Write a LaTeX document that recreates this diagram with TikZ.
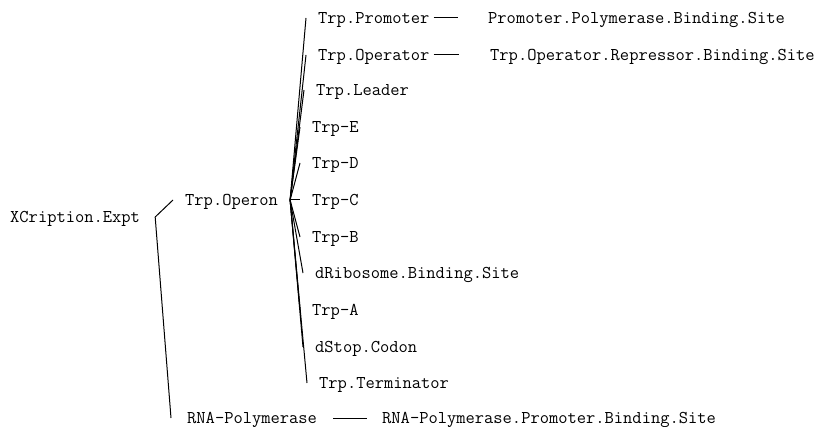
\documentclass[tikz,border=0pt]{standalone}
\usepackage{fontspec}
\setmonofont{Latin Modern Mono}
\tikzset{
  part/.style={inner xsep=15pt, inner ysep=2pt, text height=11pt, text depth=0pt, anchor=west, font=\ttfamily\fontsize{18}{20}\selectfont},
  gene/.style={part, inner xsep=12pt},
  site/.style={part, inner xsep=15pt},
  link/.style={line width=1pt}
}
\begin{document}
\begin{tikzpicture}[x=1pt, y=-1pt]
  \useasboundingbox (0,0) rectangle (829,427);
  \node[part] (expt) at (-5,217) {XCription.Expt};
  \node[part, inner xsep=12pt] (operon) at (173,200) {Trp.Operon};
  \node[part, inner xsep=16pt] (rnapol) at (171,418) {RNA-Polymerase};
  \node[gene] (promoter) at (306,18) {Trp.Promoter};
  \node[gene] (operator) at (306,55) {Trp.Operator};
  \node[gene] (leader) at (304,90) {Trp.Leader};
  \node[gene] (trpE) at (300,127) {Trp-E};
  \node[gene] (trpD) at (300,163) {Trp-D};
  \node[gene] (trpC) at (300,200) {Trp-C};
  \node[gene] (trpB) at (300,237) {Trp-B};
  \node[gene] (ribosome) at (303,273) {dRibosome.Binding.Site};
  \node[gene] (trpA) at (300,310) {Trp-A};
  \node[gene] (stopcodon) at (303,347) {dStop.Codon};
  \node[gene] (terminator) at (307,383) {Trp.Terminator};
  \node[site, inner xsep=30pt] (polsite) at (458,18) {Promoter.Polymerase.Binding.Site};
  \node[site, inner xsep=31pt] (repsite) at (459,55) {Trp.Operator.Repressor.Binding.Site};
  \node[site] (rnasite) at (367,418) {RNA-Polymerase.Promoter.Binding.Site};
  \draw[link] (expt.east) -- (operon.west);
  \draw[link] (expt.east) -- (rnapol.west);
  \draw[link] (operon.east) -- (promoter.west);
  \draw[link] (operon.east) -- (operator.west);
  \draw[link] (operon.east) -- (leader.west);
  \draw[link] (operon.east) -- (trpE.west);
  \draw[link] (operon.east) -- (trpD.west);
  \draw[link] (operon.east) -- (trpC.west);
  \draw[link] (operon.east) -- (trpB.west);
  \draw[link] (operon.east) -- (ribosome.west);
  \draw[link] (operon.east) -- (trpA.west);
  \draw[link] (operon.east) -- (stopcodon.west);
  \draw[link] (operon.east) -- (terminator.west);
  \draw[link] ([xshift=-8pt]promoter.east) -- (polsite.west);
  \draw[link] ([xshift=-8pt]operator.east) -- (repsite.west);
  \draw[link] (rnapol.east) -- (rnasite.west);
\end{tikzpicture}
\end{document}
